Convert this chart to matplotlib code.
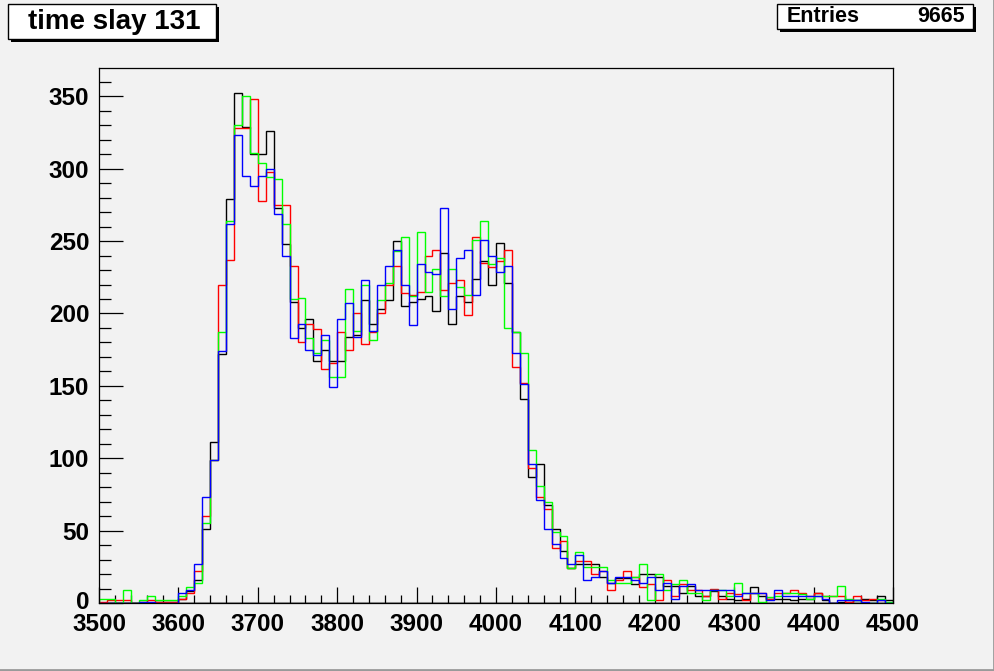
import numpy as np
import matplotlib
matplotlib.use("Agg")
import matplotlib.pyplot as plt
import matplotlib.transforms as mtransforms
from matplotlib.patches import Rectangle

plt.rcParams["font.family"] = ["Liberation Sans", "DejaVu Sans"]
plt.rcParams["font.weight"] = "bold"

# ---- data: 100 bins of width 10 between 3500 and 4500 ----
x_lo, x_hi, n_bins = 3500, 4500, 100
title = "time slay 131"
entries = 9665

black = [0, 0, 0, 0, 0, 0, 0, 1, 1, 1,
         3, 8, 16, 51, 111, 172, 279, 352, 329, 310,
         310, 326, 273, 248, 208, 190, 196, 167, 175, 167,
         167, 184, 185, 209, 193, 203, 209, 250, 205, 208,
         210, 212, 202, 242, 193, 212, 208, 224, 236, 220,
         249, 221, 187, 141, 87, 96, 68, 51, 36, 24,
         27, 27, 27, 18, 14, 17, 17, 13, 20, 20,
         18, 12, 12, 7, 12, 5, 5, 8, 5, 3,
         2, 3, 11, 5, 3, 3, 3, 2, 3, 3,
         7, 2, 0, 1, 1, 2, 3, 2, 5, 2]
red = [1, 2, 2, 2, 0, 1, 2, 1, 1, 1,
       3, 7, 22, 60, 99, 220, 237, 328, 328, 348,
       278, 298, 275, 275, 233, 180, 193, 189, 162, 166,
       187, 175, 200, 179, 187, 200, 220, 233, 214, 213,
       215, 240, 244, 216, 221, 223, 199, 253, 235, 232,
       236, 244, 163, 152, 93, 73, 65, 38, 43, 24,
       29, 29, 20, 22, 9, 16, 22, 18, 11, 13,
       2, 16, 5, 13, 9, 9, 5, 10, 3, 7,
       6, 2, 7, 7, 3, 7, 7, 9, 7, 5,
       7, 5, 5, 5, 1, 5, 2, 3, 2, 0]
green = [3, 3, 0, 9, 0, 2, 5, 2, 2, 2,
         5, 11, 14, 55, 99, 187, 264, 330, 350, 311,
         304, 294, 293, 262, 210, 211, 183, 173, 182, 156,
         156, 217, 188, 220, 182, 209, 221, 243, 253, 212,
         256, 215, 231, 212, 231, 218, 213, 251, 264, 234,
         238, 190, 187, 173, 106, 81, 70, 49, 46, 24,
         35, 25, 25, 25, 16, 14, 14, 18, 27, 2,
         20, 9, 13, 16, 7, 7, 2, 9, 9, 5,
         14, 7, 7, 1, 4, 5, 7, 7, 6, 3,
         5, 5, 5, 12, 3, 2, 0, 0, 3, 1]
blue = [0, 0, 0, 0, 0, 1, 1, 0, 0, 0,
        7, 9, 27, 73, 99, 174, 262, 323, 295, 288,
        295, 300, 269, 240, 183, 193, 175, 171, 185, 149,
        196, 207, 184, 223, 188, 220, 233, 244, 220, 192,
        234, 229, 227, 273, 203, 238, 244, 213, 251, 240,
        229, 233, 173, 151, 96, 71, 51, 41, 31, 27,
        33, 16, 18, 22, 14, 18, 18, 16, 14, 18,
        9, 14, 3, 12, 13, 9, 9, 9, 9, 9,
        5, 7, 7, 7, 2, 9, 5, 5, 5, 5,
        5, 3, 0, 2, 2, 2, 1, 0, 2, 0]

series = [(black, "#000000"), (red, "#ff0000"), (green, "#00ff00"), (blue, "#0000ff")]
edges = np.linspace(x_lo, x_hi, n_bins + 1)

bg = "#f2f2f2"
fig = plt.figure(figsize=(9.95, 6.71), dpi=100, facecolor=bg)
ax = fig.add_axes([99 / 995, 68 / 671, 794 / 995, 535 / 671], facecolor=bg)

for k, (vals, col) in enumerate(series):
    ax.stairs(vals, edges, baseline=0, color=col, lw=1.0, zorder=2 + k)

ax.set_xlim(x_lo, x_hi)
ax.set_ylim(0, 1.05 * max(max(s) for s, _ in series))

ax.set_xticks(np.arange(3500, 4501, 100))
ax.set_xticks(np.arange(3500, 4501, 20), minor=True)
ax.set_yticks(np.arange(0, 351, 50))
ax.set_yticks(np.arange(0, 361, 10), minor=True)
ax.tick_params(axis="x", which="major", direction="in", length=11.5, width=0.9, pad=7.5,
               labelsize=17.5)
ax.tick_params(axis="x", which="minor", direction="in", length=5.8, width=0.9)
ax.tick_params(axis="y", which="major", direction="in", length=17, width=0.9, pad=7,
               labelsize=17.5)
ax.tick_params(axis="y", which="minor", direction="in", length=8.5, width=0.9)
for lab in ax.get_xticklabels() + ax.get_yticklabels():
    lab.set_fontweight("bold")
# lift the "0" label a little so it clears the x labels
lab0 = ax.yaxis.get_major_ticks()[0].label1
lab0.set_transform(lab0.get_transform() +
                   mtransforms.ScaledTranslation(0, 3 / 100, fig.dpi_scale_trans))
for sp in ax.spines.values():
    sp.set_linewidth(0.9)
    sp.set_zorder(10)
# dark frame shadow along the bottom
ax.axhline(0, color="#9a9a9a", lw=2.2, zorder=1)

# title / stats boxes (pave with shadow)
def pave(x0, y0, x1, y1):
    W, H = 995, 671
    fig.patches.append(Rectangle(((x0 + 3) / W, 1 - (y1 + 3) / H), (x1 - x0) / W, (y1 - y0) / H,
                                 transform=fig.transFigure, facecolor="black", edgecolor="none"))
    fig.patches.append(Rectangle((x0 / W, 1 - y1 / H), (x1 - x0) / W, (y1 - y0) / H,
                                 transform=fig.transFigure, facecolor="white",
                                 edgecolor="black", lw=1.0))

pave(8, 4, 216, 39)
fig.text(114 / 995, 1 - 22 / 671, title, ha="center", va="center",
         fontsize=20, fontweight="bold")

pave(777, 4, 973, 29)
fig.text(787 / 995, 1 - 17 / 671, "Entries", ha="left", va="center",
         fontsize=15.5, fontweight="bold")
fig.text(965 / 995, 1 - 17 / 671, f"{entries}", ha="right", va="center",
         fontsize=15.5, fontweight="bold")

# canvas bevel
fig.add_artist(plt.Line2D([0.9985, 0.9985], [0, 1], transform=fig.transFigure,
                          color="#9a9a9a", lw=2))
fig.add_artist(plt.Line2D([0, 1], [0.0015, 0.0015], transform=fig.transFigure,
                          color="#9a9a9a", lw=2))

fig.savefig("out.png", dpi=100, facecolor=bg)
